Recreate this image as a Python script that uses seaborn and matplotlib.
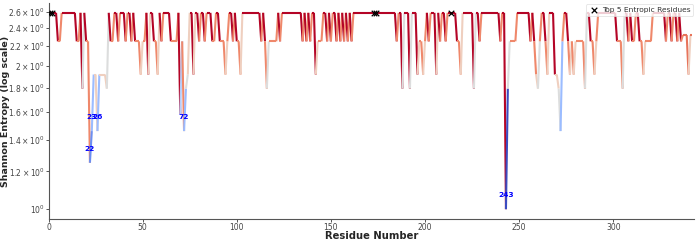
import numpy as np
import matplotlib
matplotlib.use("Agg")
import matplotlib.pyplot as plt
from matplotlib.collections import LineCollection
from matplotlib.colors import Normalize
from matplotlib.ticker import FixedLocator, FixedFormatter, NullLocator
import seaborn as sns
import pandas as pd

# Shannon entropy per residue, residues 0..342
entropy_000_049 = [2.585, 2.585, 2.585, 2.585, 2.585, 2.252, 2.252, 2.585, 2.585, 2.585,
                   2.585, 2.585, 2.585, 2.585, 2.585, 2.252, 2.252, 2.585, 1.792, 2.585,
                   2.252, 2.252, 1.252, 1.459, 1.918, 1.918, 1.459, 1.918, 1.918, 1.918,
                   1.918, 1.792, 2.585, 2.252, 2.252, 2.585, 2.585, 2.252, 2.585, 2.585,
                   2.585, 2.252, 2.585, 2.585, 2.252, 2.585, 2.252, 2.252, 2.252, 1.918]
entropy_050_099 = [2.252, 2.252, 2.585, 1.918, 2.585, 2.585, 2.252, 2.252, 1.918, 2.585,
                   2.252, 2.585, 2.585, 2.585, 2.585, 2.252, 2.252, 2.252, 2.252, 2.585,
                   1.585, 2.252, 1.459, 1.792, 1.918, 2.585, 2.585, 1.918, 2.585, 2.585,
                   2.252, 2.585, 2.585, 2.252, 2.585, 2.585, 2.585, 2.252, 2.252, 2.585,
                   2.585, 2.252, 2.252, 2.252, 1.918, 2.252, 2.585, 2.585, 2.252, 2.585]
entropy_100_149 = [2.252, 2.252, 1.918, 2.585, 2.585, 2.585, 2.585, 2.585, 2.585, 2.585,
                   2.585, 2.585, 2.585, 2.252, 2.585, 2.252, 1.792, 2.252, 2.252, 2.252,
                   2.252, 2.252, 2.585, 2.252, 2.585, 2.585, 2.585, 2.585, 2.585, 2.585,
                   2.585, 2.585, 2.585, 2.585, 2.585, 2.252, 2.585, 2.252, 2.585, 2.252,
                   2.585, 2.585, 1.918, 2.252, 2.252, 2.252, 2.585, 2.585, 2.252, 2.585]
entropy_150_199 = [2.252, 2.585, 2.585, 2.252, 2.585, 2.252, 2.585, 2.252, 2.585, 2.252,
                   2.585, 2.252, 2.585, 2.585, 2.585, 2.585, 2.585, 2.585, 2.585, 2.585,
                   2.585, 2.585, 2.585, 2.585, 2.585, 2.585, 2.585, 2.585, 2.585, 2.585,
                   2.585, 2.585, 2.585, 2.585, 2.585, 2.252, 2.585, 2.585, 1.792, 2.585,
                   2.585, 2.585, 1.792, 2.585, 2.585, 2.585, 1.918, 2.252, 2.252, 1.918]
entropy_200_249 = [2.252, 2.585, 2.252, 2.585, 2.585, 2.585, 1.918, 2.585, 2.252, 2.585,
                   2.585, 2.252, 2.585, 2.585, 2.585, 2.585, 2.585, 2.252, 2.252, 1.918,
                   2.585, 2.585, 2.585, 2.585, 2.585, 2.585, 1.792, 2.585, 2.585, 2.252,
                   2.585, 2.585, 2.585, 2.585, 2.585, 2.585, 2.585, 2.585, 2.585, 2.585,
                   2.252, 2.585, 2.585, 1.000, 1.792, 2.252, 2.252, 2.252, 2.252, 2.585]
entropy_250_299 = [2.585, 2.585, 2.585, 2.585, 2.585, 2.585, 2.252, 2.585, 2.252, 1.918,
                   1.792, 2.252, 2.585, 2.585, 2.252, 1.918, 2.585, 2.585, 2.585, 1.918,
                   1.918, 1.792, 1.459, 2.252, 2.585, 2.585, 2.252, 1.918, 2.252, 1.918,
                   2.252, 2.252, 2.252, 2.252, 2.252, 1.792, 2.585, 2.585, 2.252, 2.252,
                   1.918, 2.252, 2.585, 2.585, 2.585, 2.585, 2.585, 2.585, 2.585, 2.585]
entropy_300_342 = [2.585, 2.585, 2.252, 2.252, 2.252, 1.792, 2.585, 2.585, 2.252, 2.585,
                   2.252, 2.252, 2.585, 2.585, 2.252, 2.252, 1.918, 2.252, 2.252, 2.252,
                   2.252, 2.585, 2.585, 2.585, 2.585, 2.585, 2.585, 2.585, 2.252, 2.585,
                   2.585, 2.252, 2.585, 2.585, 2.252, 2.585, 2.252, 2.322, 2.322, 2.322,
                   1.918, 2.322, 2.322]

# Highlighted residues
top_entropic_residues = [1, 2, 173, 174, 214]
low_entropy_labels = [22, 23, 26, 72, 243]

y_tick_values = [1.0, 1.2, 1.4, 1.6, 1.8, 2.0, 2.2, 2.4, 2.6]
y_tick_labels = [r"$\mathdefault{10^{0}}$",
                 r"$\mathdefault{1.2\times10^{0}}$",
                 r"$\mathdefault{1.4\times10^{0}}$",
                 r"$\mathdefault{1.6\times10^{0}}$",
                 r"$\mathdefault{1.8\times10^{0}}$",
                 r"$\mathdefault{2\times10^{0}}$",
                 r"$\mathdefault{2.2\times10^{0}}$",
                 r"$\mathdefault{2.4\times10^{0}}$",
                 r"$\mathdefault{2.6\times10^{0}}$"]

entropy = np.array(entropy_000_049 + entropy_050_099 + entropy_100_149 +
                   entropy_150_199 + entropy_200_249 + entropy_250_299 +
                   entropy_300_342)
residues = np.arange(len(entropy))
df = pd.DataFrame({"residue": residues, "entropy": entropy})

sns.set_style("ticks")
plt.rcParams["font.family"] = ["DejaVu Sans"]

fig, ax = plt.subplots(figsize=(6.97, 2.40), dpi=100)
fig.subplots_adjust(left=0.0696, right=0.996, bottom=0.0875, top=0.9875)

ax.set_yscale("log")

# line coloured by entropy (segment colour = value at segment start)
pts = np.column_stack([df["residue"].values, df["entropy"].values])
segs = np.stack([pts[:-1], pts[1:]], axis=1)
norm = Normalize(vmin=entropy.min(), vmax=entropy.max())
lc = LineCollection(segs, cmap="coolwarm", norm=norm, linewidths=1.5,
                    capstyle="butt", joinstyle="miter")
lc.set_array(entropy[:-1])
ax.add_collection(lc)

# top entropic residues markers
top_df = df[df["residue"].isin(top_entropic_residues)]
sns.scatterplot(data=top_df, x="residue", y="entropy", marker="x", color="black",
                s=16, linewidth=0.9, ax=ax, label="Top 5 Entropic Residues", zorder=5)

# labels for lowest-entropy residues
for r in low_entropy_labels:
    v = df.loc[df["residue"] == r, "entropy"].values[0]
    ax.annotate(str(r), (r, v), xytext=(0, 10), textcoords="offset points",
                ha="center", va="center", color="blue", fontsize=5.4,
                fontweight="bold")

ax.set_xlim(0, residues.max() + 1)
lo, hi = entropy.min(), entropy.max()
span = np.log10(hi / lo)
ax.set_ylim(lo / 10 ** (0.05 * span), hi * 10 ** (0.05 * span))

ax.yaxis.set_major_locator(FixedLocator(y_tick_values))
ax.yaxis.set_major_formatter(FixedFormatter(y_tick_labels))
ax.yaxis.set_minor_locator(NullLocator())
ax.set_xticks([0, 50, 100, 150, 200, 250, 300])

ax.tick_params(axis="both", labelsize=5.5, length=2.2, width=0.7, pad=0.6,
               color="#555555", labelcolor="#444444")
for s in ["left", "bottom"]:
    ax.spines[s].set_color("#555555")
    ax.spines[s].set_linewidth(0.8)
sns.despine(ax=ax)

ax.set_xlabel("Residue Number", fontsize=7.2, fontweight="bold")
ax.xaxis.set_label_coords(0.5, -0.056)
ax.set_ylabel("Shannon Entropy (log scale)", fontsize=6.8, fontweight="bold")
ax.yaxis.label.set_va("center")
ax.yaxis.set_label_coords(-0.0667, 0.5)

leg = ax.legend(loc="upper right", fontsize=5.4, frameon=True, borderpad=0.35,
                handletextpad=0.3, borderaxespad=0.15, handlelength=1.5)
leg.get_frame().set_edgecolor("#dddddd")
leg.get_frame().set_linewidth(0.6)
for t in leg.get_texts():
    t.set_color("#333333")

fig.savefig("out.png", dpi=100)
